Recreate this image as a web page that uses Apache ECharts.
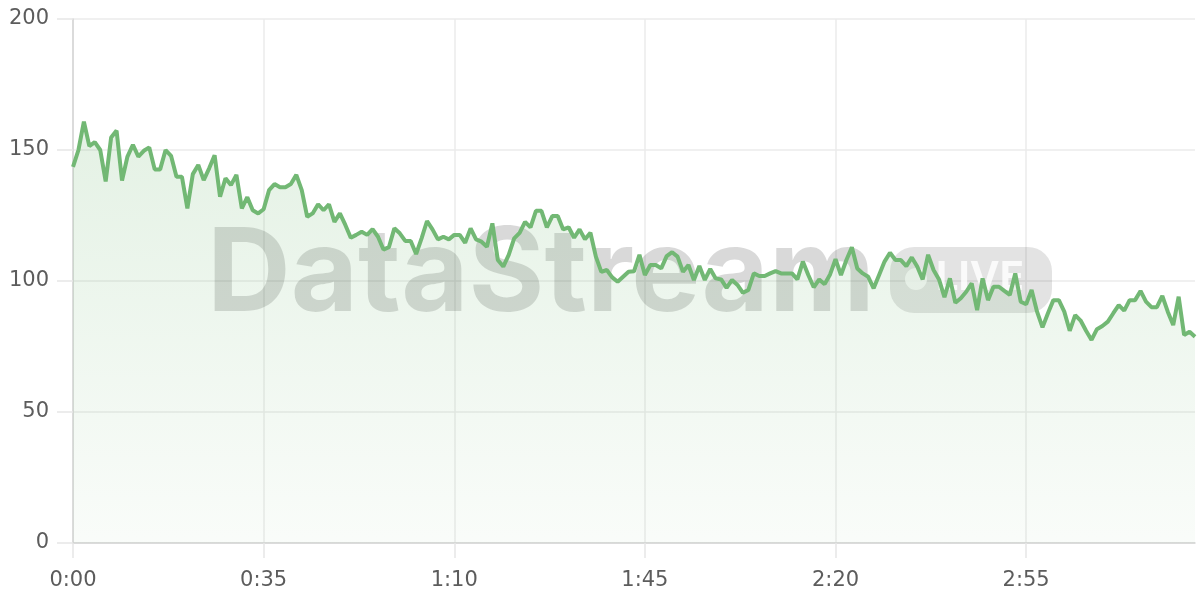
<!DOCTYPE html>
<html>
<head>
<meta charset="utf-8">
<title>DataStream live</title>
<script src="https://cdn.jsdelivr.net/npm/echarts@6/dist/echarts.min.js"></script>
<style>
  html, body { margin: 0; padding: 0; background: #fff; }
  #chart { width: 1200px; height: 600px; }
</style>
</head>
<body>
<div id="chart"></div>
<script>
// one reading per second
const values = [
  143.6, 150, 160.8, 151.5, 153, 150, 138, 154.8, 157.4, 138.3,
  147.5, 152, 147.5, 149.7, 151, 142.6, 142.6, 150, 147.8, 139.8,
  139.8, 127.7, 140.8, 144.3, 138.5, 143, 148, 132.2, 139.2, 136.6,
  140.5, 127.7, 132, 127, 125.8, 127.4, 134.7, 137, 135.8, 135.8,
  137, 140.5, 134.7, 124.5, 125.8, 129.3, 127, 129.3, 122.6, 125.8,
  121.4, 116.5, 117.6, 118.8, 117.6, 119.8, 116.9, 112, 112.9, 120.1,
  118.2, 115.3, 115.3, 110.3, 116.3, 122.9, 119.7, 115.9, 116.9, 115.9,
  117.6, 117.6, 114.6, 120.1, 115.9, 115, 113.1, 122, 108, 105.5,
  110, 116.3, 118.4, 122.6, 120.5, 126.8, 126.8, 120.5, 124.8, 124.8,
  119.7, 120.5, 116.5, 119.7, 115.9, 118.4, 109.3, 103.5, 104.2, 101.4,
  99.7, 101.6, 103.5, 103.7, 110, 102.3, 106.1, 106.1, 104.8, 109.5,
  111, 109.3, 103.5, 106.1, 100.4, 105.7, 100.4, 104.6, 101, 100.6,
  97.4, 100.4, 98.5, 95.5, 96.6, 102.9, 101.9, 101.9, 102.9, 103.8,
  102.9, 102.9, 102.9, 100.6, 107.4, 102.3, 97.6, 100.6, 98.8, 102.5,
  108.3, 102.3, 108, 112.9, 104.8, 102.9, 101.6, 97.2, 102.3, 107.4,
  110.8, 108, 108, 105.7, 109, 105.5, 100.6, 110, 104.2, 100.6,
  93.8, 101, 91.7, 93.4, 95.9, 99.1, 88.9, 101, 92.7, 97.8,
  97.8, 96.2, 94.7, 102.9, 92.1, 91.1, 96.6, 88.3, 82.3, 87.7,
  92.7, 92.7, 88.3, 81, 87, 84.9, 81, 77.5, 81.6, 82.8,
  84.5, 87.7, 90.8, 88.7, 92.7, 92.7, 96.2, 92.1, 90, 90,
  94.3, 88.3, 83.2, 94, 79.4, 80.6, 78.7
];

const labelEvery = 35;   // seconds between x labels
const yTicks = { min: 0, max: 200, step: 50 };
const watermark = 'DataStream';
const badgeText = 'LIVE';

function fmtClock(sec) {
  const m = Math.floor(sec / 60);
  const s = sec % 60;
  return m + ':' + String(s).padStart(2, '0');
}

const times = values.map((_, i) => fmtClock(i));

const GREEN = '#72b874';
const LABEL = '#5c5c5c';
const GRID = '#ebebeb';
const LABEL_FONT = 'DejaVu Sans';

const chart = echarts.init(document.getElementById('chart'), null, { renderer: 'canvas' });

chart.setOption({
  backgroundColor: '#fff',
  animation: false,
  grid: { left: 73, right: 5, top: 19, bottom: 57 },
  xAxis: {
    type: 'category',
    data: times,
    boundaryGap: false,
    axisLine: { lineStyle: { color: '#d4d4d4', width: 1.5 } },
    axisTick: { show: true, interval: labelEvery - 1, length: 15, lineStyle: { color: '#e6e6e6', width: 1.5 } },
    axisLabel: {
      interval: labelEvery - 1,
      margin: 27,
      color: LABEL,
      fontFamily: LABEL_FONT,
      fontSize: 21
    },
    splitLine: { show: true, interval: labelEvery - 1, lineStyle: { color: GRID, width: 1.5 } }
  },
  yAxis: {
    type: 'value',
    min: yTicks.min,
    max: yTicks.max,
    interval: yTicks.step,
    axisLine: { show: true, lineStyle: { color: '#d4d4d4', width: 1.5 } },
    axisTick: { show: true, length: 16, lineStyle: { color: '#e6e6e6', width: 1.5 } },
    axisLabel: {
      margin: 24,
      color: LABEL,
      fontFamily: LABEL_FONT,
      fontSize: 21
    },
    splitLine: { show: true, lineStyle: { color: GRID, width: 1.5 } }
  },
  graphic: [
    {
      type: 'text',
      z: 1,
      silent: true,
      left: 207,
      top: 218,
      style: {
        text: watermark,
        fill: 'rgba(0,0,0,0.15)',
        font: 'bold 116px Inter'
      }
    },
    {
      type: 'rect',
      z: 1,
      silent: true,
      shape: { x: 890, y: 247, width: 162, height: 66, r: 24 },
      style: { fill: 'rgba(0,0,0,0.11)' }
    },
    {
      type: 'circle',
      z: 1,
      silent: true,
      shape: { cx: 916, cy: 279, r: 11 },
      style: { fill: 'rgba(255,255,255,0.75)' }
    },
    {
      type: 'text',
      z: 1,
      silent: true,
      left: 936,
      top: 258,
      style: {
        text: badgeText,
        fill: 'rgba(255,255,255,0.8)',
        font: 'bold 40px Inter'
      }
    }
  ],
  series: [{
    type: 'line',
    data: values,
    showSymbol: false,
    smooth: false,
    z: 2,
    lineStyle: { color: GREEN, width: 4 },
    areaStyle: {
      color: new echarts.graphic.LinearGradient(0, 0, 0, 1, [
        { offset: 0, color: 'rgba(116,185,118,0.28)' },
        { offset: 1, color: 'rgba(116,185,118,0.06)' }
      ])
    }
  }]
});

window.addEventListener('resize', () => chart.resize());
</script>
</body>
</html>
